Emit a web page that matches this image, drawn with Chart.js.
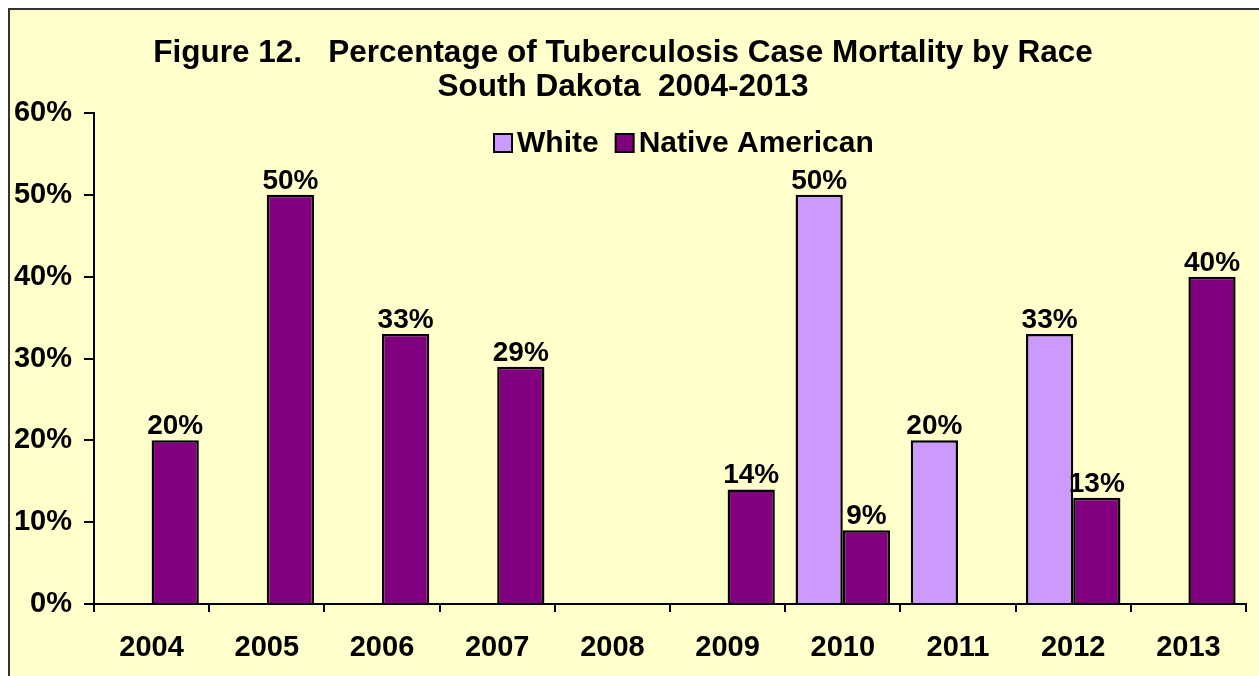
<!DOCTYPE html>
<html>
<head>
<meta charset="utf-8">
<title>Tuberculosis Case Mortality by Race</title>
<script src="https://cdn.jsdelivr.net/npm/chart.js@4.4.1/dist/chart.umd.min.js"></script>
<style>
    html, body { margin: 0; padding: 0; background: #fff; overflow: hidden; }
    #frame {
        position: absolute; left: 8px; top: 8px; width: 1300px; height: 700px;
        background: #FFFFCC; border-left: 2px solid #333; border-top: 2px solid #333;
    }
    #chart { position: absolute; left: 0; top: 0; }
</style>
</head>
<body>
<div id="frame"></div>
<canvas id="chart" width="1259" height="676"></canvas>
<script>
// Chart data
const years = ['2004', '2005', '2006', '2007', '2008', '2009', '2010', '2011', '2012', '2013'];
const whitePct = [null, null, null, null, null, null, 50, 20, 33, null];
const nativePct = [20, 50, 33, 29, null, 14, 9, null, 13, 40];
const titleLines = ['Figure 12.   Percentage of Tuberculosis Case Mortality by Race', 'South Dakota  2004-2013'];
const yMax = 60;
const yStep = 10;

const FONT_FAMILY = '"Liberation Sans", Arial, sans-serif';
const tickFont = { family: FONT_FAMILY, size: 29, weight: 'bold' };
const titleFont = { family: FONT_FAMILY, size: 31.5, weight: 'bold', lineHeight: 1.08 };

// Percentage labels above each bar
const barLabels = {
    id: 'barLabels',
    afterDatasetsDraw(chart) {
        const ctx = chart.ctx;
        ctx.save();
        ctx.font = `bold 28px ${FONT_FAMILY}`;
        ctx.fillStyle = '#000';
        ctx.textAlign = 'center';
        ctx.textBaseline = 'alphabetic';
        chart.data.datasets.forEach((ds, i) => {
            chart.getDatasetMeta(i).data.forEach((bar, j) => {
                const v = ds.data[j];
                if (v === null) return;
                ctx.fillText(v + '%', bar.x, bar.y - 6);
            });
        });
        ctx.restore();
    }
};

// Legend drawn inside the plot area, like the original
const insideLegend = {
    id: 'insideLegend',
    afterDraw(chart) {
        const ctx = chart.ctx;
        let x = 494;
        const y = 143;
        ctx.save();
        ctx.font = `bold 30px ${FONT_FAMILY}`;
        ctx.textBaseline = 'middle';
        ctx.textAlign = 'left';
        chart.data.datasets.forEach(ds => {
            ctx.fillStyle = ds.backgroundColor;
            ctx.fillRect(x, y - 9, 18, 18);
            ctx.lineWidth = 2;
            ctx.strokeStyle = '#000';
            ctx.strokeRect(x, y - 9, 18, 18);
            ctx.fillStyle = '#000';
            ctx.fillText(ds.label, x + 23, y + 1);
            x += 23 + ctx.measureText(ds.label).width + 17;
        });
        ctx.restore();
    }
};

const ctx = document.getElementById('chart').getContext('2d');
new Chart(ctx, {
    type: 'bar',
    data: {
        labels: years,
        datasets: [
            {
                label: 'White',
                data: whitePct,
                backgroundColor: '#CC99FF',
                borderColor: '#000',
                borderWidth: 2.5,
                categoryPercentage: 0.82,
                barPercentage: 1.0
            },
            {
                label: 'Native American',
                data: nativePct,
                backgroundColor: '#800080',
                borderColor: '#000',
                borderWidth: 2.5,
                categoryPercentage: 0.82,
                barPercentage: 1.0
            }
        ]
    },
    options: {
        responsive: false,
        devicePixelRatio: 1,
        animation: false,
        layout: { padding: { top: 0, right: 13, bottom: 0, left: 0 } },
        plugins: {
            legend: { display: false },
            tooltip: { enabled: false },
            title: {
                display: true,
                text: titleLines,
                color: '#000',
                font: titleFont,
                padding: { top: 36, bottom: 9 }
            }
        },
        scales: {
            x: {
                grid: {
                    display: true, drawOnChartArea: false, drawTicks: true,
                    tickLength: 8, color: '#000', lineWidth: 2, offset: true
                },
                border: { display: true, color: '#000', width: 2 },
                ticks: { color: '#000', font: tickFont, padding: 19, maxRotation: 0 },
                afterFit: (scale) => { scale.height = 72; }
            },
            y: {
                min: 0,
                max: yMax,
                grid: {
                    display: true, drawOnChartArea: false, drawTicks: true,
                    tickLength: 10, color: '#000', lineWidth: 2
                },
                border: { display: true, color: '#000', width: 2 },
                ticks: {
                    stepSize: yStep,
                    color: '#000',
                    font: tickFont,
                    padding: 12,
                    callback: (v) => v + '%'
                },
                afterFit: (scale) => { scale.width = 94; }
            }
        }
    },
    plugins: [barLabels, insideLegend]
});
</script>
</body>
</html>
